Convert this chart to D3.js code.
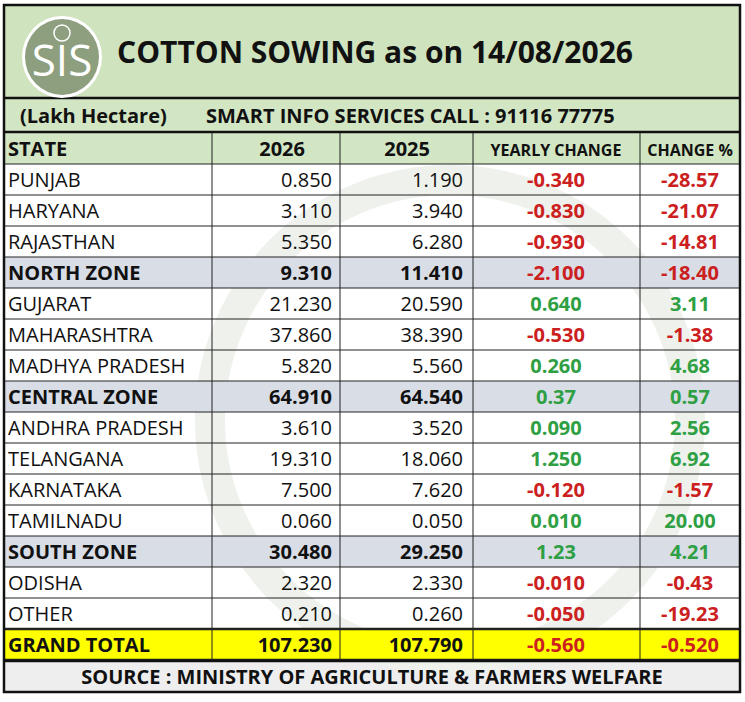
<!DOCTYPE html>
<html><head><meta charset="utf-8">
<script src="https://cdn.jsdelivr.net/npm/d3@7"></script>
<style>body{margin:0;background:#fff}text{font-family:"Liberation Sans Narrow","Open Sans",sans-serif}</style>
</head><body><svg></svg>
<script>
let states = ['PUNJAB','HARYANA','RAJASTHAN','NORTH ZONE','GUJARAT','MAHARASHTRA','MADHYA PRADESH','CENTRAL ZONE','ANDHRA PRADESH','TELANGANA','KARNATAKA','TAMILNADU','SOUTH ZONE','ODISHA','OTHER','GRAND TOTAL'];
let y2026 = ['0.850','3.110','5.350','9.310','21.230','37.860','5.820','64.910','3.610','19.310','7.500','0.060','30.480','2.320','0.210','107.230'];
let y2025 = ['1.190','3.940','6.280','11.410','20.590','38.390','5.560','64.540','3.520','18.060','7.620','0.050','29.250','2.330','0.260','107.790'];
let yearly = ['-0.340','-0.830','-0.930','-2.100','0.640','-0.530','0.260','0.37','0.090','1.250','-0.120','0.010','1.23','-0.010','-0.050','-0.560'];
let pct = ['-28.57','-21.07','-14.81','-18.40','3.11','-1.38','4.68','0.57','2.56','6.92','-1.57','20.00','4.21','-0.43','-19.23','-0.520'];
let headers = ['STATE','2026','2025','YEARLY CHANGE','CHANGE %'];
let zones = ['NORTH ZONE','CENTRAL ZONE','SOUTH ZONE'];

let width = 745, height = 702;
let colEdges = [4, 212, 340, 473, 640, 740];
let top0 = 164, rowH = 31;
let svg = d3.select('svg').attr('width', width).attr('height', height);

let yScale = d3.scaleBand().domain(d3.range(states.length)).range([top0, top0 + rowH * states.length]);

// header areas
svg.append('rect').attr('x', 4).attr('y', 5).attr('width', 736).attr('height', 93).attr('fill', '#cfe3be');
svg.append('rect').attr('x', 4).attr('y', 98).attr('width', 736).attr('height', 66).attr('fill', '#d2e6c3');
svg.append('rect').attr('x', 4).attr('y', 661).attr('width', 736).attr('height', 31).attr('fill', '#eeeeee');

// watermark
svg.append('circle').attr('cx', 450).attr('cy', 420).attr('r', 240).attr('fill', 'none').attr('stroke', '#eef1ec').attr('stroke-width', 30);

// rows backgrounds
svg.selectAll('.rowbg').data(states).enter().append('rect')
  .attr('x', 4).attr('y', (d, i) => yScale(i)).attr('width', 736).attr('height', rowH)
  .attr('fill', d => d === 'GRAND TOTAL' ? '#ffff00' : zones.includes(d) ? '#d8dde6' : 'none');

// grid
let gridTop = 132, gridBottom = 661;
svg.selectAll('.vl').data(colEdges.slice(1, -1)).enter().append('line')
  .attr('x1', d => d).attr('x2', d => d).attr('y1', gridTop).attr('y2', gridBottom)
  .attr('stroke', '#222').attr('stroke-width', 1);
svg.selectAll('.hl').data(d3.range(states.length + 1)).enter().append('line')
  .attr('x1', 4).attr('x2', 740).attr('y1', i => top0 + i * rowH).attr('y2', i => top0 + i * rowH)
  .attr('stroke', '#222').attr('stroke-width', i => (i === 15 || i === 16) ? 2.5 : 1);
[98, 132, 661].forEach(y => svg.append('line').attr('x1', 4).attr('x2', 740).attr('y1', y).attr('y2', y).attr('stroke', '#111').attr('stroke-width', 2.5));
svg.append('rect').attr('x', 4).attr('y', 5).attr('width', 736).attr('height', 687).attr('fill', 'none').attr('stroke', '#111').attr('stroke-width', 2.5);

// logo
let logo = svg.append('g');
logo.append('ellipse').attr('cx', 62).attr('cy', 57).attr('rx', 40).attr('ry', 41).attr('fill', '#fff');
logo.append('ellipse').attr('cx', 62).attr('cy', 57).attr('rx', 37).attr('ry', 38).attr('fill', '#8d9f7f');
logo.append('text').attr('x', 62).attr('y', 76).attr('text-anchor', 'middle').attr('font-size', 44).attr('fill', '#fff').attr('font-family', 'DejaVu Serif').text('SIS');
logo.append('circle').attr('cx', 62).attr('cy', 33).attr('r', 8).attr('fill', 'none').attr('stroke', '#fff').attr('stroke-width', 1.5);

svg.append('text').attr('x', 375).attr('y', 63).attr('text-anchor', 'middle').attr('font-size', 30).attr('font-weight', 'bold').attr('fill', '#111').text('COTTON SOWING  as on 14/08/2026');
svg.append('text').attr('x', 20).attr('y', 123).attr('font-size', 20).attr('font-weight', 'bold').attr('fill', '#111').text('(Lakh Hectare)');
svg.append('text').attr('x', 206).attr('y', 123).attr('font-size', 20).attr('font-weight', 'bold').attr('fill', '#111').text('SMART INFO SERVICES CALL : 91116 77775');
svg.append('text').attr('x', 372).attr('y', 684).attr('text-anchor', 'middle').attr('font-size', 20).attr('font-weight', 'bold').attr('fill', '#111').text('SOURCE : MINISTRY OF AGRICULTURE & FARMERS WELFARE');

// header row
let hx = [8, 305, 430, 556, 690], ha = ['start', 'end', 'end', 'middle', 'middle'], hs = [20, 20, 20, 16, 16];
svg.selectAll('.hd').data(headers).enter().append('text')
  .attr('x', (d, i) => hx[i]).attr('y', 156).attr('text-anchor', (d, i) => ha[i])
  .attr('font-size', (d, i) => hs[i]).attr('font-weight', 'bold').attr('fill', '#111').text(d => d);

let bold = d => d === 'GRAND TOTAL' || zones.includes(d);
let cy = i => yScale(i) + 23;
let g = svg.append('g');
let cells = [
  {vals: states, x: 8, a: 'start', color: () => '#111'},
  {vals: y2026, x: 332, a: 'end', color: () => '#111'},
  {vals: y2025, x: 463, a: 'end', color: () => '#111'},
  {vals: yearly, x: 556, a: 'middle', color: v => v.startsWith('-') ? '#cc2020' : '#2ea043'},
  {vals: pct, x: 690, a: 'middle', color: v => v.startsWith('-') ? '#cc2020' : '#2ea043'}
];
cells.forEach((c, ci) => {
  g.selectAll(null).data(c.vals).enter().append('text')
    .attr('x', c.x).attr('y', (d, i) => cy(i)).attr('text-anchor', c.a)
    .attr('font-size', 20)
    .attr('font-weight', (d, i) => (ci >= 3 || bold(states[i])) ? 'bold' : 'normal')
    .attr('fill', d => c.color(d)).text(d => d);
});
</script></body></html>
